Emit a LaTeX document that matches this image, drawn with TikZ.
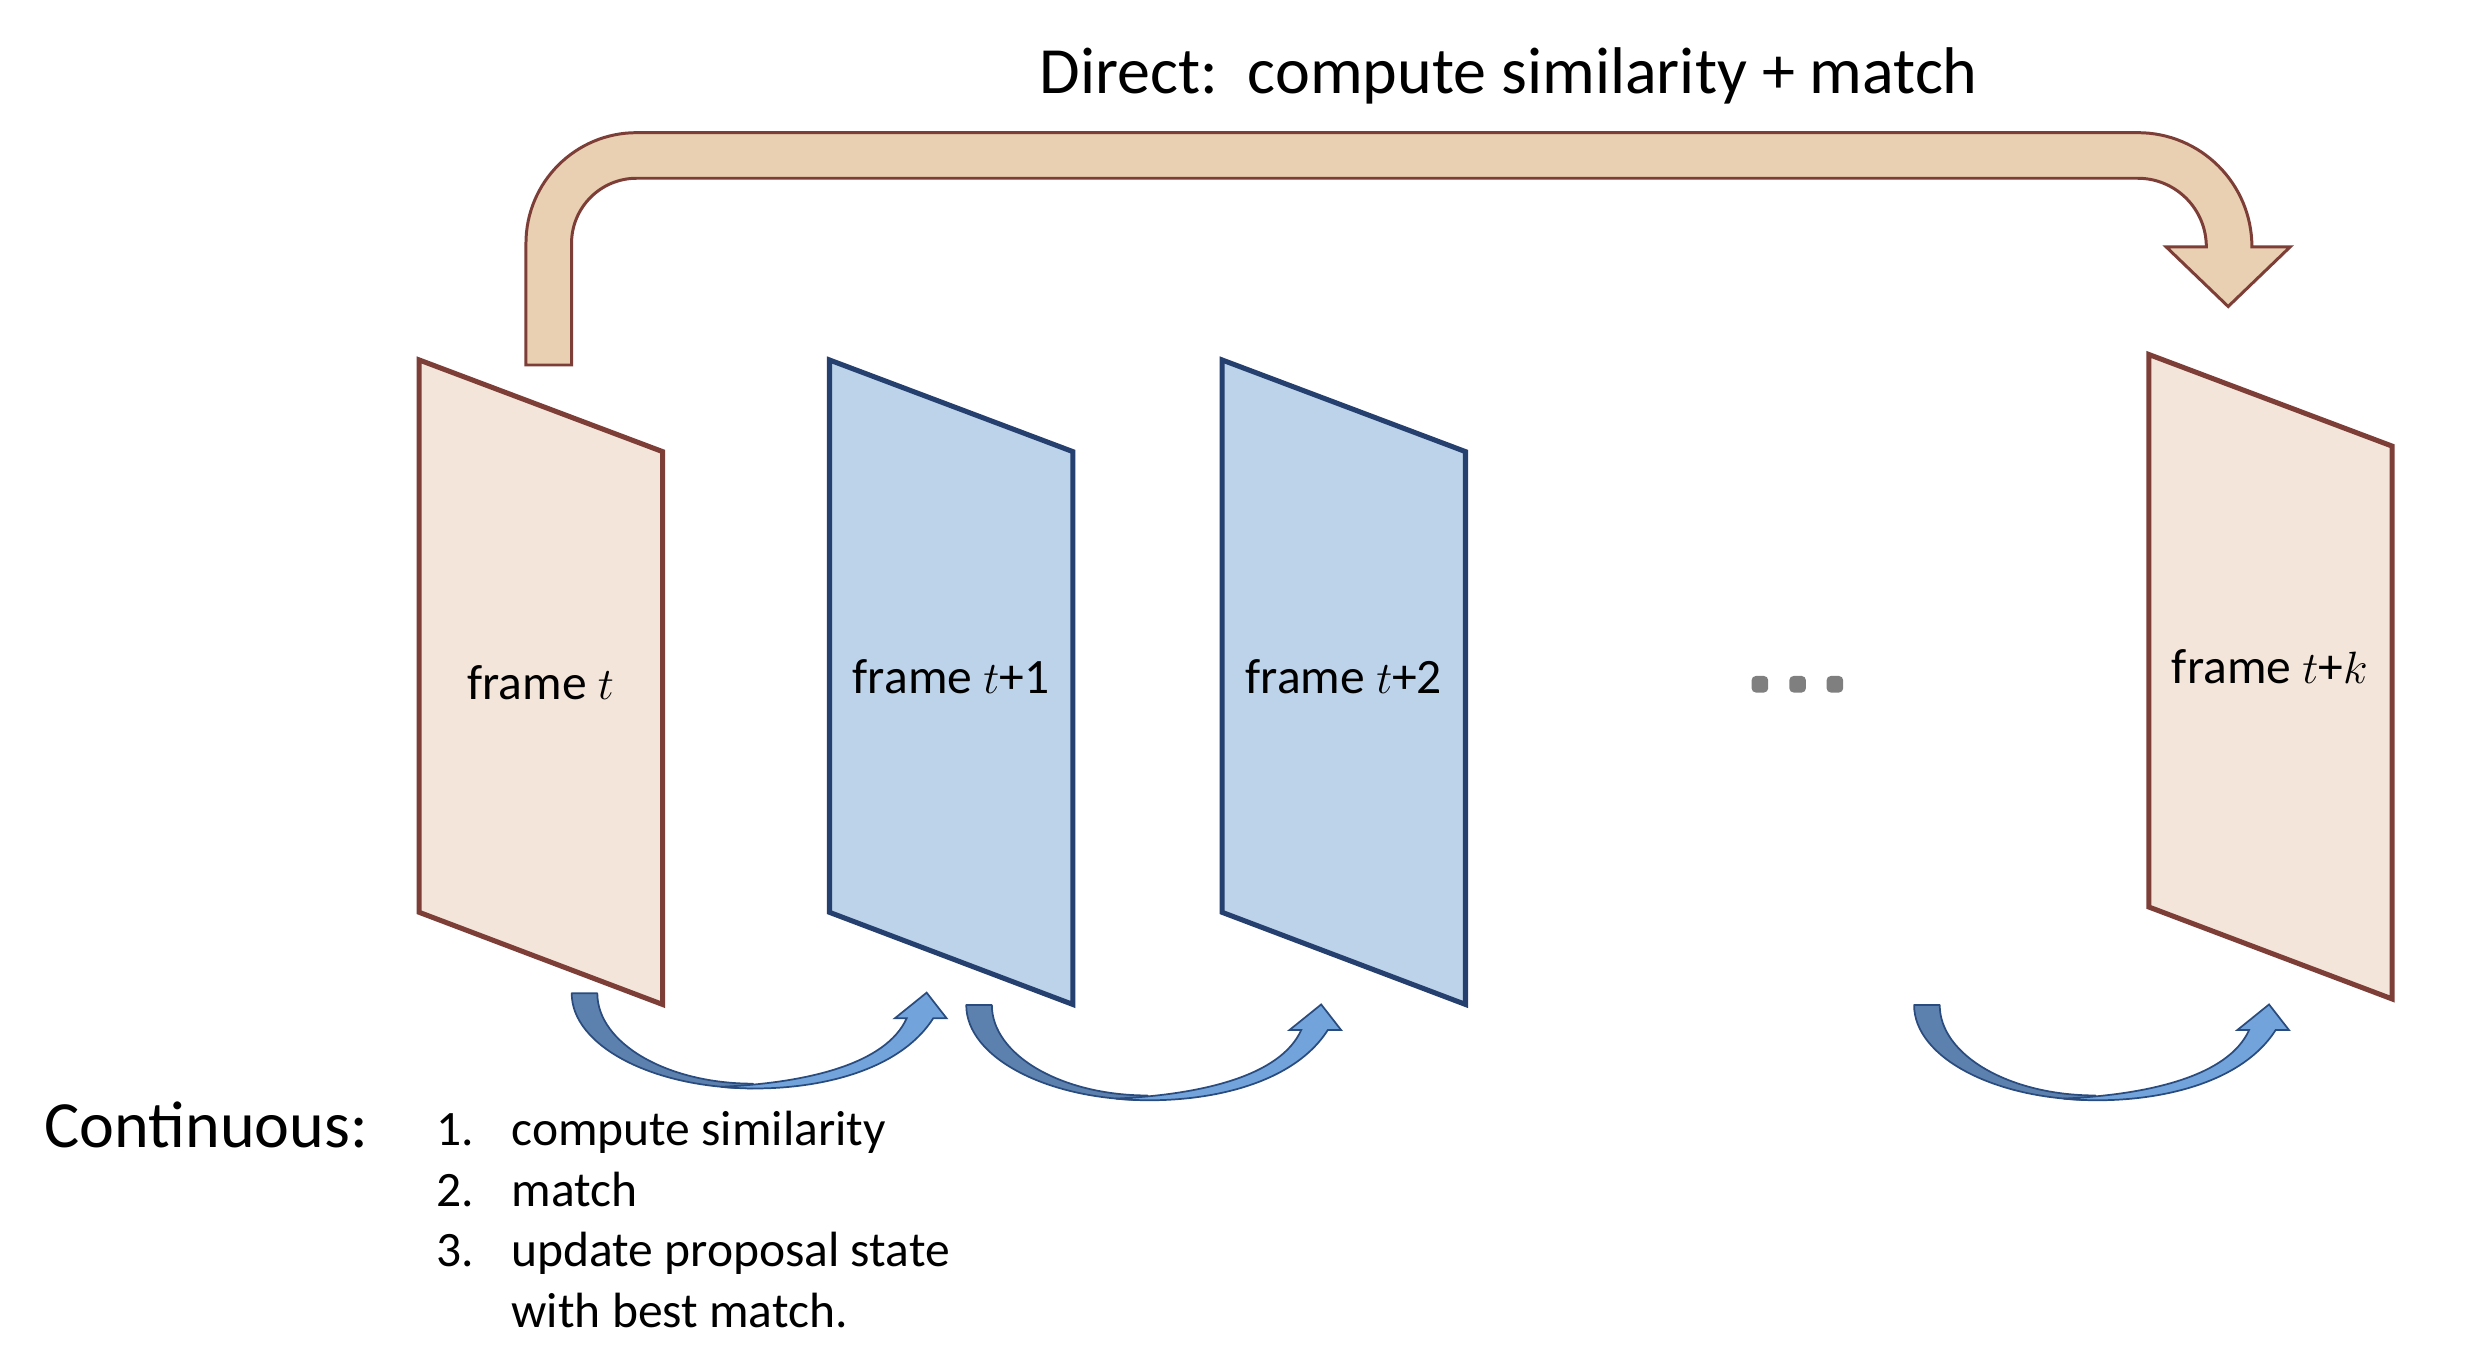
\documentclass[tikz,border=0pt]{standalone}
\usepackage{fontspec}
\setmainfont{Carlito}
\definecolor{peachfill}{HTML}{F3E5D9}
\definecolor{tanfill}{HTML}{E9D0B2}
\definecolor{brownline}{HTML}{7D3E37}
\definecolor{bluefill}{HTML}{BCD3EA}
\definecolor{blueline}{HTML}{253F6F}
\definecolor{arrowdark}{HTML}{5C81AF}
\definecolor{arrowlight}{HTML}{72A4DB}
\definecolor{arrowline}{HTML}{2A4B7D}
\definecolor{dotgray}{HTML}{7F7F7F}
\tikzset{
  peachframe/.style={fill=peachfill, draw=brownline, line width=1.6pt, line join=miter},
  blueframe/.style={fill=bluefill, draw=blueline, line width=1.6pt, line join=miter},
  bigarrow/.style={fill=tanfill, draw=brownline, line width=0.95pt, line join=miter},
  bigtext/.style={font=\fontsize{21}{25}\selectfont, inner sep=0pt},
  smalltext/.style={font=\fontsize{15.75}{19}\selectfont, inner sep=0pt},
  framelabel/.style={font=\fontsize{15.75}{19}\selectfont, inner sep=0pt, anchor=base},
  dotbox/.style={fill=dotgray, rounded corners=1.4pt, minimum size=5.3pt, inner sep=0pt},
  curvarrow/.pic={
    \path[fill=arrowdark, draw=arrowline, line width=0.55pt, line join=round]
      (0,0) arc[start angle=180, end angle=270, x radius=57.65pt, y radius=30.2pt]
      -- (115.3,-57.5) arc[start angle=270, end angle=180, x radius=49.5pt, y radius=28.75pt]
      -- cycle;
    \path[fill=arrowlight, draw=arrowline, line width=0.55pt, line join=miter]
      (95,-59.5) .. controls (140,-64) and (205,-55) .. (230,-15.9)
      -- (238.5,-15.9) -- (225.8,0.4) -- (205.6,-15.9) -- (213.1,-15.9)
      .. controls (200,-45) and (150,-57) .. (95,-59.5) -- cycle;
  }
}
\begin{document}
\begin{tikzpicture}[x=0.5pt, y=0.5pt]
\useasboundingbox (0,0) rectangle (1572,-866.5);

% big direct arrow
\path[bigarrow]
  (334.6,-232.2) -- (334.6,-154.8)
  arc[start angle=180, end angle=90, radius=35.2pt]
  -- (1360,-84.4)
  arc[start angle=90, end angle=0, radius=36.3pt]
  -- (1457,-157) -- (1417.5,-195) -- (1378,-157) -- (1403.6,-157)
  arc[start angle=0, end angle=90, radius=21.8pt]
  -- (405,-113.4)
  arc[start angle=90, end angle=180, radius=20.7pt]
  -- (363.6,-232.2) -- cycle;

% frames
\draw[peachframe] (266.7,-229) -- (421.5,-287.3) -- (421.5,-639) -- (266.7,-580.4) -- cycle;
\draw[blueframe] (527.7,-229) -- (682.5,-287.3) -- (682.5,-639) -- (527.7,-580.4) -- cycle;
\draw[blueframe] (777.5,-229) -- (932.3,-287.3) -- (932.3,-639) -- (777.5,-580.4) -- cycle;
\draw[peachframe] (1367,-225.5) -- (1521.8,-283.8) -- (1521.8,-635.5) -- (1367,-577) -- cycle;

% frame labels
\node[framelabel] (lt)  at (344,-445) {frame $t$};
\node[framelabel] (lt1) at (605,-441) {frame $t$+1};
\node[framelabel] (lt2) at (855,-441) {frame $t$+2};
\node[framelabel] (ltk) at (1444,-435) {frame $t$+$k$};

% dots
\node[dotbox] (d1) at (1119.6,-435.3) {};
\node[dotbox] (d2) at (1143.6,-435.3) {};
\node[dotbox] (d3) at (1167.3,-435.3) {};

% curved continuous arrows
\pic at (363.7,-631.9) {curvarrow};
\pic at (614.7,-639.4) {curvarrow};
\pic at (1217.7,-639.4) {curvarrow};

% texts
\node[bigtext, anchor=base west] (direct) at (661,-59.8) {Direct:\ \ compute similarity + match};
\node[bigtext, anchor=base west] (cont) at (28,-730) {Continuous:};
\node[smalltext, anchor=base west] (n1) at (277,-729) {1.};
\node[smalltext, anchor=base west] (n2) at (277,-767.5) {2.};
\node[smalltext, anchor=base west] (n3) at (277,-806) {3.};
\node[smalltext, anchor=base west] (i1) at (325,-729) {compute similarity};
\node[smalltext, anchor=base west] (i2) at (325,-767.5) {match};
\node[smalltext, anchor=base west] (i3) at (325,-806) {update proposal state};
\node[smalltext, anchor=base west] (i4) at (325,-844.5) {with best match.};
\end{tikzpicture}
\end{document}
